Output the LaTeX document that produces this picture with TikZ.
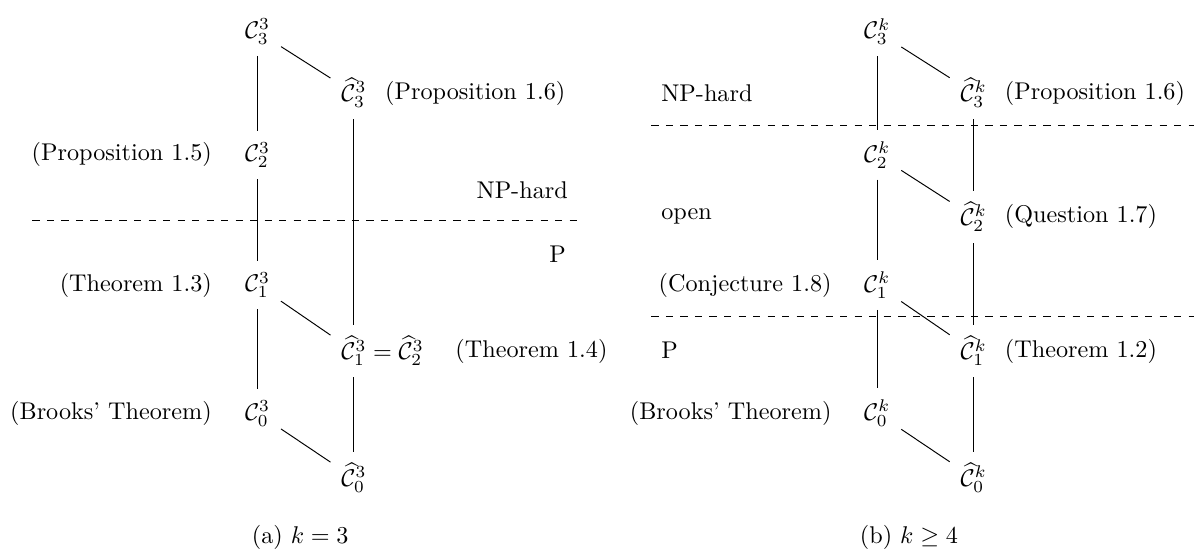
\documentclass[tikz,border=0pt]{standalone}
\usepackage{amsmath,amssymb}
\usepackage{tikz}
\usetikzlibrary{positioning}

\begin{document}
\begin{tikzpicture}[
  refl/.style={anchor=east},
  refr/.style={anchor=west},
  link/.style={shorten >=1.2pt, shorten <=1.2pt},
  divider/.style={dashed}
]
  \useasboundingbox (0,0) rectangle (17.34,-7.99);
  % ---------- LEFT PANEL: k = 3 ----------
  \begin{scope}[xshift=0cm]
    \node (a3) at (3.74,-0.46) {$\mathcal{C}^3_3$};
    \node (a2) at (3.74,-2.25) {$\mathcal{C}^3_2$};
    \node (a1) at (3.74,-4.14) {$\mathcal{C}^3_1$};
    \node (a0) at (3.74,-6.00) {$\mathcal{C}^3_0$};
    \node (ha3) at (5.14,-1.35) {$\widehat{\mathcal{C}}^3_3$};
    \node (ha1) at (5.14,-5.10) {$\widehat{\mathcal{C}}^3_1\rlap{${}=\widehat{\mathcal{C}}^3_2$}$};
    \node (ha0) at (5.14,-6.94) {$\widehat{\mathcal{C}}^3_0$};
    \draw[link] (a3) -- (a2);
    \draw[link] (a2) -- (a1);
    \draw[link] (a1) -- (a0);
    \draw[link] (a3) -- (ha3);
    \draw[link] (ha3) -- (ha1);
    \draw[link] (a1) -- (ha1);
    \draw[link] (ha1) -- (ha0);
    \draw[link] (a0) -- (ha0);
    \node[refl] (pa5) at (3.20,-2.25) {(Proposition 1.5)};
    \node[refl] (ta3) at (3.20,-4.14) {(Theorem 1.3)};
    \node[refl] (bra) at (3.20,-6.00) {(Brooks' Theorem)};
    \node[refr] (pa6) at (5.47,-1.35) {(Proposition 1.6)};
    \node[refr] (ta4) at (6.49,-5.10) {(Theorem 1.4)};
    \draw[divider] (0.47,-3.20) -- (8.42,-3.20);
    \node[refl] (npa) at (8.37,-2.76) {NP-hard};
    \node[refl] (pa) at (8.34,-3.69) {P};
    \node (capa) at (4.36,-7.80) {(a) $k=3$};
  \end{scope}
  % ---------- RIGHT PANEL: k >= 4 ----------
  \begin{scope}[xshift=9cm]
    \node (b3) at (3.74,-0.46) {$\mathcal{C}^k_3$};
    \node (b2) at (3.74,-2.25) {$\mathcal{C}^k_2$};
    \node (b1) at (3.74,-4.14) {$\mathcal{C}^k_1$};
    \node (b0) at (3.74,-6.00) {$\mathcal{C}^k_0$};
    \node (hb3) at (5.14,-1.35) {$\widehat{\mathcal{C}}^k_3$};
    \node (hb2) at (5.14,-3.15) {$\widehat{\mathcal{C}}^k_2$};
    \node (hb1) at (5.14,-5.10) {$\widehat{\mathcal{C}}^k_1$};
    \node (hb0) at (5.14,-6.94) {$\widehat{\mathcal{C}}^k_0$};
    \draw[link] (b3) -- (b2);
    \draw[link] (b2) -- (b1);
    \draw[link] (b1) -- (b0);
    \draw[link] (hb3) -- (hb2);
    \draw[link] (hb2) -- (hb1);
    \draw[link] (hb1) -- (hb0);
    \draw[link] (b3) -- (hb3);
    \draw[link] (b2) -- (hb2);
    \draw[link] (b1) -- (hb1);
    \draw[link] (b0) -- (hb0);
    \node[refr] (pb6) at (5.47,-1.35) {(Proposition 1.6)};
    \node[refr] (qb7) at (5.47,-3.15) {(Question 1.7)};
    \node[refr] (tb2) at (5.47,-5.10) {(Theorem 1.2)};
    \node[refl] (cb8) at (3.20,-4.14) {(Conjecture 1.8)};
    \node[refl] (brb) at (3.20,-6.00) {(Brooks' Theorem)};
    \draw[divider] (0.46,-1.82) -- (8.34,-1.82);
    \draw[divider] (0.46,-4.60) -- (8.34,-4.60);
    \node[refr] (npb) at (0.48,-1.35) {NP-hard};
    \node[refr] (ob) at (0.48,-3.15) {open};
    \node[refr] (pb) at (0.48,-5.08) {P};
    \node (capb) at (4.20,-7.80) {(b) $k\geq 4$};
  \end{scope}
\end{tikzpicture}
\end{document}
